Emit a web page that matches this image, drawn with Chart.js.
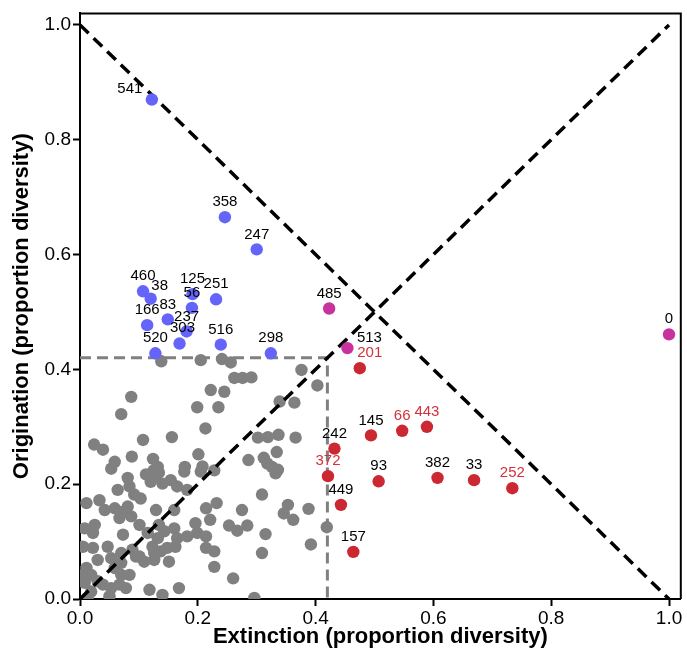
<!DOCTYPE html>
<html>
<head>
<meta charset="utf-8">
<title>Origination vs extinction</title>
<script src="https://cdn.jsdelivr.net/npm/chart.js@4.4.1/dist/chart.umd.min.js"></script>
<style>
    html, body { margin: 0; padding: 0; background: #fff; }
    canvas { display: block; }
</style>
</head>
<body>
<canvas id="scatter-chart" width="687" height="659"></canvas>
<script>
// 数据：灭绝率 (x) 与 起源率 (y)，均为多样性比例

// 背景区间 (灰色)
const greyExt = [
    0.138, 0.205, 0.241, 0.256, 0.376, 0.262, 0.276, 0.291, 0.403, 0.222,
    0.245, 0.087, 0.199, 0.235, 0.339, 0.364, 0.070, 0.213, 0.107, 0.156,
    0.302, 0.319, 0.337, 0.366, 0.024, 0.039, 0.088, 0.124, 0.201, 0.334,
    0.286, 0.312, 0.318, 0.326, 0.336, 0.059, 0.053, 0.178, 0.208, 0.132,
    0.332, 0.228, 0.309, 0.232, 0.214, 0.221, 0.275, 0.253, 0.267, 0.284,
    0.315, 0.353, 0.346, 0.362, 0.388, 0.419, 0.392, 0.214, 0.214, 0.228,
    0.309, 0.228, 0.260, 0.296, 0.081, 0.084, 0.112, 0.126, 0.134, 0.120,
    0.140, 0.154, 0.165, 0.177, 0.205, 0.064, 0.092, 0.182, 0.011, 0.033,
    0.042, 0.059, 0.073, 0.081, 0.087, 0.067, 0.129, 0.160, 0.008, 0.025,
    0.022, 0.073, 0.101, 0.115, 0.134, 0.143, 0.132, 0.160, 0.165, 0.182,
    0.196, 0.199, 0.005, 0.022, 0.047, 0.070, 0.089, 0.095, 0.123, 0.126,
    0.137, 0.148, 0.162, 0.030, 0.011, 0.053, 0.070, 0.059, 0.101, 0.109,
    0.126, 0.151, 0.005, 0.019, 0.008, 0.030, 0.039, 0.070, 0.084, 0.067,
    0.053, 0.078, 0.118, 0.140, 0.168, 0.019, 0.050, 0.013, 0.125, 0.103
];
const greyOrig = [
    0.414, 0.416, 0.418, 0.412, 0.399, 0.385, 0.385, 0.386, 0.372, 0.364,
    0.361, 0.352, 0.334, 0.334, 0.344, 0.342, 0.322, 0.297, 0.277, 0.282,
    0.281, 0.282, 0.286, 0.281, 0.269, 0.260, 0.248, 0.244, 0.252, 0.256,
    0.242, 0.246, 0.236, 0.230, 0.225, 0.239, 0.227, 0.230, 0.231, 0.230,
    0.219, 0.224, 0.182, 0.167, 0.158, 0.138, 0.155, 0.128, 0.119, 0.128,
    0.113, 0.164, 0.149, 0.138, 0.157, 0.125, 0.095, 0.109, 0.089, 0.083,
    0.080, 0.056, 0.036, 0.002, 0.211, 0.196, 0.217, 0.213, 0.220, 0.204,
    0.201, 0.207, 0.196, 0.222, 0.222, 0.190, 0.182, 0.190, 0.167, 0.172,
    0.155, 0.158, 0.152, 0.161, 0.144, 0.141, 0.155, 0.155, 0.123, 0.129,
    0.115, 0.112, 0.129, 0.115, 0.129, 0.118, 0.106, 0.123, 0.106, 0.109,
    0.132, 0.115, 0.091, 0.089, 0.091, 0.080, 0.086, 0.074, 0.091, 0.080,
    0.083, 0.089, 0.091, 0.068, 0.054, 0.071, 0.063, 0.054, 0.074, 0.065,
    0.068, 0.065, 0.042, 0.042, 0.028, 0.031, 0.025, 0.042, 0.042, 0.025,
    0.019, 0.019, 0.016, 0.007, 0.019, 0.013, 0.005, 0.002, 0.224, 0.175
];

// 高起源区间 (蓝色)
const blueIds  = ['541', '358', '247', '460', '38', '125', '56', '251', '83', '166', '237', '303', '516', '520', '298'];
const blueExt  = [0.122, 0.246, 0.300, 0.107, 0.120, 0.191, 0.190, 0.231, 0.149, 0.114, 0.181, 0.169, 0.239, 0.128, 0.324];
const blueOrig = [0.870, 0.665, 0.609, 0.536, 0.523, 0.531, 0.507, 0.522, 0.487, 0.477, 0.466, 0.445, 0.443, 0.428, 0.428];

// 双高区间 (品红)
const pinkIds  = ['485', '513', '0'];
const pinkExt  = [0.423, 0.454, 1.000];
const pinkOrig = [0.506, 0.437, 0.461];

// 高灭绝区间 (红色)
const redIds  = ['201', '145', '66', '443', '242', '372', '93', '382', '33', '252', '449', '157'];
const redExt  = [0.475, 0.494, 0.547, 0.589, 0.432, 0.421, 0.507, 0.607, 0.669, 0.734, 0.443, 0.464];
const redOrig = [0.402, 0.285, 0.293, 0.300, 0.262, 0.214, 0.205, 0.211, 0.207, 0.193, 0.164, 0.082];

// 标签用红字的区间
const flaggedIds = ['201', '66', '443', '372', '252'];

// 阈值和参考线
const cutoff = 0.42;
const diagExt = [0, 1];
const diagOrig = [0, 1];
const antiExt = [0, 1];
const antiOrig = [1, 0];

const axisTicks = [0, 0.2, 0.4, 0.6, 0.8, 1.0];

const FONT = '"Liberation Sans", Arial, Helvetica, sans-serif';
const GREY = '#808080';
const BLUE = '#6464fa';
const PINK = '#c8329e';
const RED = '#cc2832';

function toPoints(xs, ys) {
    return xs.map((x, i) => ({ x: x, y: ys[i] }));
}

// 标签偏移 (像素)，默认在点正上方
const labelNudge = {
    '541': [-22, -11],
    '38': [9, -13],
    '303': [3, -16],
    '513': [22, -10],
    '201': [10, -15]
};

// 画图框的上边和右边
const framePlugin = {
    id: 'frame',
    afterDraw(chart) {
        const { ctx, chartArea } = chart;
        ctx.save();
        ctx.strokeStyle = '#000';
        ctx.lineWidth = 2;
        ctx.beginPath();
        ctx.moveTo(chartArea.left, chartArea.top);
        ctx.lineTo(chartArea.right, chartArea.top);
        ctx.lineTo(chartArea.right, chartArea.bottom);
        ctx.stroke();
        ctx.restore();
    }
};

// 点标签
const labelPlugin = {
    id: 'pointLabels',
    afterDatasetsDraw(chart) {
        const ctx = chart.ctx;
        ctx.save();
        ctx.font = '15px ' + FONT;
        ctx.textAlign = 'center';
        ctx.textBaseline = 'middle';
        chart.data.datasets.forEach((ds, di) => {
            if (!ds.ids) return;
            const meta = chart.getDatasetMeta(di);
            meta.data.forEach((pt, i) => {
                const id = ds.ids[i];
                const nudge = labelNudge[id] || [0, -15];
                ctx.fillStyle = flaggedIds.includes(id) ? '#d6303a' : '#000';
                ctx.fillText(id, pt.x + nudge[0], pt.y + nudge[1]);
            });
        });
        ctx.restore();
    }
};

const dotStyle = { pointRadius: 6.2, pointBorderWidth: 0, pointHoverRadius: 6.2, clip: 0 };

new Chart(document.getElementById('scatter-chart'), {
    type: 'scatter',
    data: {
        datasets: [
            Object.assign({ label: 'grey', data: toPoints(greyExt, greyOrig), backgroundColor: GREY, order: 6 }, dotStyle),
            {
                type: 'line', label: 'cutoff', data: toPoints([0, cutoff, cutoff], [cutoff, cutoff, 0]),
                borderColor: GREY, borderWidth: 3, borderDash: [11, 6], pointRadius: 0, showLine: true, fill: false, order: 5
            },
            {
                type: 'line', label: 'diag', data: toPoints(diagExt, diagOrig),
                borderColor: '#000', borderWidth: 3.5, borderDash: [12, 7], pointRadius: 0, showLine: true, fill: false, order: 4
            },
            {
                type: 'line', label: 'anti', data: toPoints(antiExt, antiOrig),
                borderColor: '#000', borderWidth: 3.5, borderDash: [12, 7], pointRadius: 0, showLine: true, fill: false, order: 3
            },
            Object.assign({ label: 'blue', ids: blueIds, data: toPoints(blueExt, blueOrig), backgroundColor: BLUE, order: 2 }, dotStyle),
            Object.assign({ label: 'pink', ids: pinkIds, data: toPoints(pinkExt, pinkOrig), backgroundColor: PINK, order: 1 }, dotStyle),
            Object.assign({ label: 'red', ids: redIds, data: toPoints(redExt, redOrig), backgroundColor: RED, order: 0 }, dotStyle)
        ]
    },
    options: {
        responsive: false,
        animation: false,
        events: [],
        layout: { padding: { left: 0, right: 3, top: 11, bottom: 0 } },
        plugins: {
            legend: { display: false },
            tooltip: { enabled: false }
        },
        scales: {
            x: {
                type: 'linear',
                min: 0,
                max: 1.02,
                afterBuildTicks: s => { s.ticks = axisTicks.map(v => ({ value: v })); },
                afterFit: s => { s.height = 60; },
                ticks: {
                    color: '#000',
                    font: { family: FONT, size: 19 },
                    padding: 1,
                    autoSkip: false,
                    maxRotation: 0,
                    callback: v => v.toFixed(1)
                },
                grid: { display: true, drawOnChartArea: false, drawTicks: true, tickLength: 7, tickWidth: 2, tickColor: '#000' },
                border: { display: true, color: '#000', width: 2 },
                title: {
                    display: true,
                    text: 'Extinction (proportion diversity)',
                    color: '#000',
                    font: { family: FONT, size: 22, weight: 'bold' },
                    padding: { top: 0, bottom: 9 }
                }
            },
            y: {
                type: 'linear',
                min: 0,
                max: 1.02,
                afterBuildTicks: s => { s.ticks = axisTicks.map(v => ({ value: v })); },
                afterFit: s => { s.width = 80; },
                ticks: {
                    color: '#000',
                    font: { family: FONT, size: 19 },
                    padding: 2,
                    autoSkip: false,
                    callback: v => v.toFixed(1)
                },
                grid: { display: true, drawOnChartArea: false, drawTicks: true, tickLength: 7, tickWidth: 2, tickColor: '#000' },
                border: { display: true, color: '#000', width: 2 },
                title: {
                    display: true,
                    text: 'Origination (proportion diversity)',
                    color: '#000',
                    font: { family: FONT, size: 22, weight: 'bold' },
                    padding: { top: 9, bottom: 0 }
                }
            }
        }
    },
    plugins: [framePlugin, labelPlugin]
});
</script>
</body>
</html>
